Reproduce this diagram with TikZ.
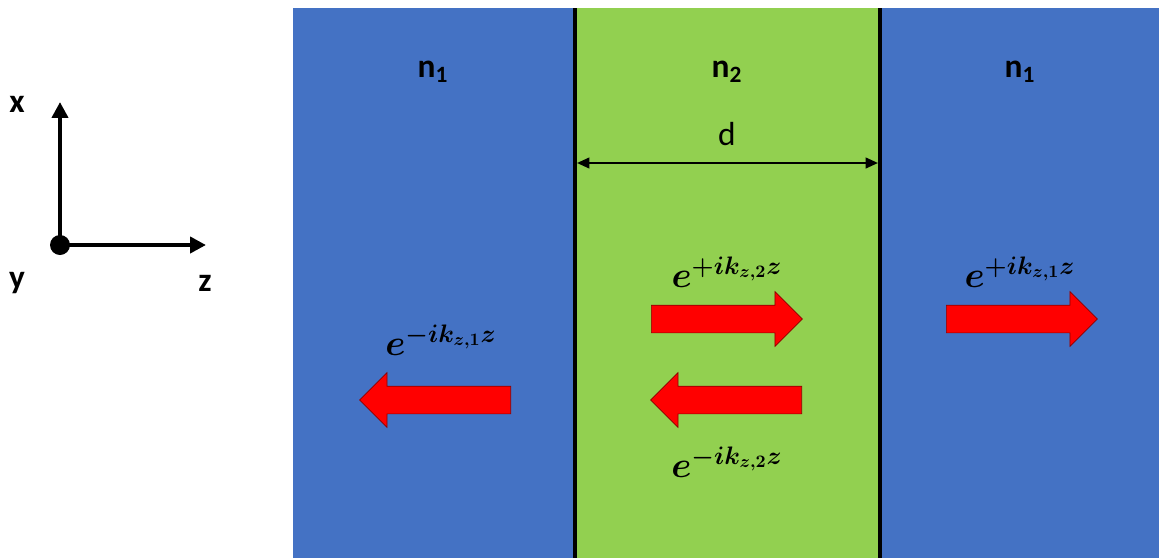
\documentclass[tikz,border=0pt]{standalone}
\usepackage{amsmath, amssymb}
\usepackage{fontspec}
\setmainfont{Carlito}
\usepackage{tikz}
\usetikzlibrary{arrows.meta, shapes.arrows}

\definecolor{slabblue}{HTML}{4472C4}
\definecolor{slabgreen}{HTML}{92D050}

\begin{document}
\begin{tikzpicture}[
  x=0.02cm, y=-0.02cm,
  medium/.style={fill=slabblue, draw=none},
  layer/.style={fill=slabgreen, draw=none},
  iface/.style={line width=1.8pt, black},
  wave/.style={single arrow, draw=red!55!black, fill=red, thin,
               minimum height=3.02cm, inner xsep=0pt, inner ysep=0.27cm,
               single arrow head extend=0.27cm, single arrow head indent=0pt},
  idx/.style={font=\fontsize{19}{22}\selectfont\bfseries},
  lab/.style={font=\fontsize{19}{22}\selectfont},
  amp/.style={font=\fontsize{20.5}{24}\selectfont\boldmath},
  axis/.style={-{Triangle[length=9pt, width=9pt]}, line width=2.6pt},
]
\useasboundingbox (0,0) rectangle (1159,558);

% ---- Media -----------------------------------------------------------------
\fill[medium] (293,8) rectangle (1159,558);
\fill[layer] (575,8) rectangle (880,558);
\draw[iface] (575,8) -- (575,558);
\draw[iface] (880,8) -- (880,558);

% ---- Refractive indices ----------------------------------------------------
\node[idx] (nL) at (433,72) {n\textsubscript{1}};
\node[idx] (nM) at (727,72) {n\textsubscript{2}};
\node[idx] (nR) at (1020,72) {n\textsubscript{1}};

% ---- Thickness -------------------------------------------------------------
\coordinate (dL) at (577,163);
\coordinate (dR) at (878,163);
\draw[{Triangle[length=7pt, width=6pt]}-{Triangle[length=7pt, width=6pt]}, line width=1.3pt]
  (dL) -- (dR);
\node[lab] (dlab) at (727,134) {d};

% ---- Waves -----------------------------------------------------------------
\node[wave, shape border rotate=180, anchor=tail] (rL) at (511,400) {};
\node[wave, anchor=tail] (tM) at (651,319) {};
\node[wave, shape border rotate=180, anchor=tail] (rM) at (802,400) {};
\node[wave, anchor=tail] (tR) at (946,319) {};

\node[amp] (arL) at (441,340) {$e^{-ik_{z,1}z}$};
\node[amp] (atM) at (727,272) {$e^{+ik_{z,2}z}$};
\node[amp] (arM) at (727,462) {$e^{-ik_{z,2}z}$};
\node[amp] (atR) at (1020,272) {$e^{+ik_{z,1}z}$};

% ---- Axes ------------------------------------------------------------------
\coordinate (O) at (60,245);
\coordinate (xt) at (60,102);
\coordinate (zt) at (206,245);
\draw[axis] (O) -- (xt);
\draw[axis] (O) -- (zt);
\fill (O) circle (10);
\node[idx] (xlab) at (17,104) {x};
\node[idx] (ylab) at (17,283) {y};
\node[idx] (zlab) at (205,283) {z};

\end{tikzpicture}
\end{document}
